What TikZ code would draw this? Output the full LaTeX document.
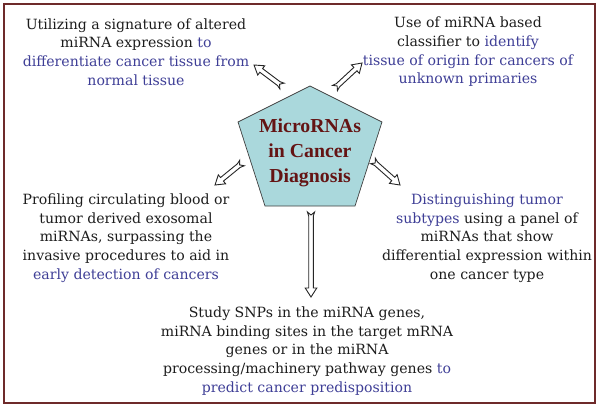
\documentclass[tikz,border=0pt]{standalone}
\usepackage{fontspec}
\setmainfont{DejaVu Serif}
\newfontfamily\titlefont{Liberation Serif}
\usetikzlibrary{calc}
\definecolor{framebrown}{RGB}{110,42,42}
\definecolor{hubfill}{RGB}{170,216,220}
\definecolor{hubred}{RGB}{100,20,20}
\definecolor{textblue}{RGB}{62,62,150}
\definecolor{textgray}{RGB}{28,28,28}
\newcommand{\hl}[1]{\textcolor{textblue}{#1}}

\begin{document}
\begin{tikzpicture}[x=1pt,y=-1pt,
	every node/.style={inner sep=0pt},
	info/.style={align=center,text=textgray,font=\fontsize{14.1}{18.7}\selectfont},
	hubshape/.style={draw=black!75,fill=hubfill,line width=0.7pt},
	blockarrow/.style={draw=black!85,fill=white,line width=0.9pt,line join=miter,
		to path={let \p1=($(\tikztotarget)-(\tikztostart)$),
			\n1={veclen(\x1,\y1)}, \n2={atan2(\y1,\x1)} in
			{[shift={(\tikztostart)},rotate=\n2]
			(0pt,3.6pt) -- (4pt,2.3pt) -- ({\n1-9pt},2.3pt) -- ({\n1-9pt},5.8pt) -- (\n1,0pt)
			-- ({\n1-9pt},-5.8pt) -- ({\n1-9pt},-2.3pt) -- (4pt,-2.3pt) -- (0pt,-3.6pt) -- (3pt,0pt) -- cycle}}}]
	\useasboundingbox (0,0) rectangle (600,410);
	\draw [framebrown,line width=2pt] (4,4) rectangle (595,403);

	\draw [hubshape] (310,86) -- (382,122) -- (355,206) -- (265,206) -- (238,122) -- cycle;
	\node (hub) at (310,153) [align=center,text=hubred,font=\titlefont\bfseries\fontsize{19.8}{25}\selectfont] {MicroRNAs\\in Cancer\\Diagnosis};

	\node (util) at (136,52) [info] {Utilizing a signature of altered\\miRNA expression \hl{to}\\\hl{differentiate cancer tissue from}\\\hl{normal tissue}};
	\node (classifier) at (468,52) [info] {Use of miRNA based\\classifier to \hl{identify}\\\hl{tissue of origin for cancers of}\\\hl{unknown primaries}};
	\node (profiling) at (126,238) [info] {Profiling circulating blood or\\tumor derived exosomal\\miRNAs, surpassing the\\invasive procedures to aid in\\\hl{early detection of cancers}};
	\node (subtypes) at (487,238) [info] {\hl{Distinguishing tumor}\\\hl{subtypes} using a panel of\\miRNAs that show\\differential expression within\\one cancer type};
	\node (snps) at (307,351) [info] {Study SNPs in the miRNA genes,\\miRNA binding sites in the target mRNA\\genes or in the miRNA\\processing/machinery pathway genes \hl{to}\\\hl{predict cancer predisposition}};

	\coordinate (t1) at (282,86);  \coordinate (h1) at (254,65);
	\coordinate (t2) at (335,88);  \coordinate (h2) at (362,63);
	\coordinate (t3) at (242,163); \coordinate (h3) at (215,185);
	\coordinate (t4) at (373,161); \coordinate (h4) at (400,185);
	\coordinate (t5) at (311,212); \coordinate (h5) at (311,297);
	\foreach \i in {1,...,5}
		\draw [blockarrow] (t\i) to (h\i);
\end{tikzpicture}
\end{document}
